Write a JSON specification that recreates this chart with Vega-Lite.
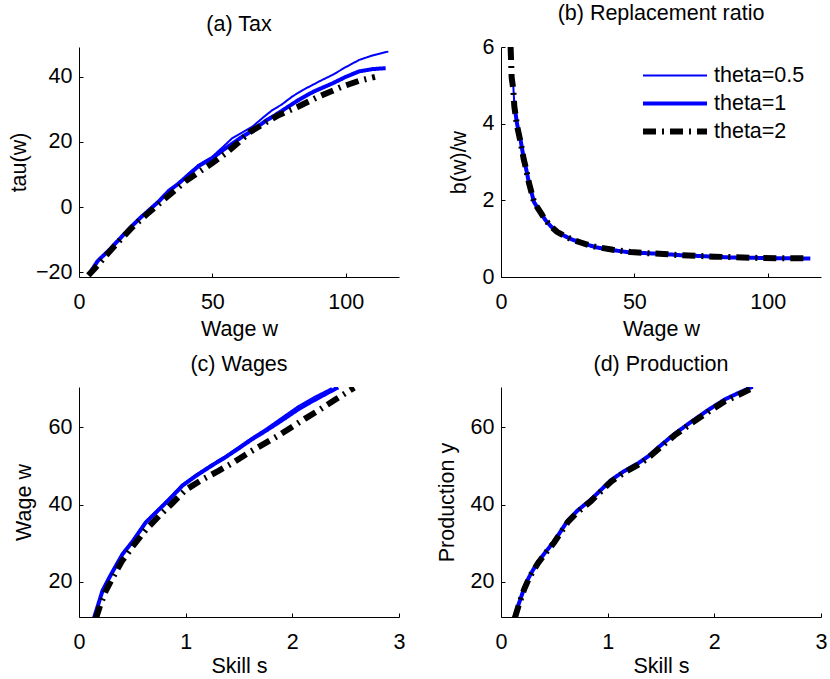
{
  "$schema": "https://vega.github.io/schema/vega-lite/v6.json",
  "padding": {"left": 8, "top": 3, "right": 5, "bottom": 0},
  "background": "white",
  "datasets": {
    "a": [
      {"x":4.4,"y":-19.4,"t":"theta=0.5"},{"x":7,"y":-16.5,"t":"theta=0.5"},{"x":11.2,"y":-13.2,"t":"theta=0.5"},{"x":15,"y":-9.8,"t":"theta=0.5"},{"x":19.4,"y":-6,"t":"theta=0.5"},{"x":23,"y":-3.2,"t":"theta=0.5"},{"x":26.2,"y":-0.9,"t":"theta=0.5"},{"x":30,"y":2,"t":"theta=0.5"},{"x":33.7,"y":5.2,"t":"theta=0.5"},{"x":37,"y":7,"t":"theta=0.5"},{"x":41.2,"y":10.4,"t":"theta=0.5"},{"x":45,"y":13,"t":"theta=0.5"},{"x":50,"y":15.5,"t":"theta=0.5"},{"x":54,"y":18.5,"t":"theta=0.5"},{"x":57.5,"y":21.2,"t":"theta=0.5"},{"x":61,"y":22.8,"t":"theta=0.5"},{"x":65,"y":24.7,"t":"theta=0.5"},{"x":69,"y":27.5,"t":"theta=0.5"},{"x":72.5,"y":29.8,"t":"theta=0.5"},{"x":76,"y":31.5,"t":"theta=0.5"},{"x":80,"y":34,"t":"theta=0.5"},{"x":84,"y":36,"t":"theta=0.5"},{"x":87.5,"y":37.5,"t":"theta=0.5"},{"x":91,"y":39,"t":"theta=0.5"},{"x":95,"y":40.6,"t":"theta=0.5"},{"x":100,"y":43,"t":"theta=0.5"},{"x":105,"y":45.2,"t":"theta=0.5"},{"x":110,"y":46.6,"t":"theta=0.5"},{"x":116,"y":47.8,"t":"theta=0.5"},
      {"x":4.6,"y":-19.6,"t":"theta=1"},{"x":7,"y":-16.6,"t":"theta=1"},{"x":11.2,"y":-13.3,"t":"theta=1"},{"x":15,"y":-10,"t":"theta=1"},{"x":19.4,"y":-6.2,"t":"theta=1"},{"x":23,"y":-3.3,"t":"theta=1"},{"x":26.2,"y":-1,"t":"theta=1"},{"x":30,"y":1.8,"t":"theta=1"},{"x":33.7,"y":5,"t":"theta=1"},{"x":37,"y":7,"t":"theta=1"},{"x":41.2,"y":10,"t":"theta=1"},{"x":45,"y":12.7,"t":"theta=1"},{"x":50,"y":15,"t":"theta=1"},{"x":54,"y":17.5,"t":"theta=1"},{"x":57.5,"y":19.5,"t":"theta=1"},{"x":61,"y":21.5,"t":"theta=1"},{"x":65,"y":23.5,"t":"theta=1"},{"x":70,"y":26.5,"t":"theta=1"},{"x":75,"y":29,"t":"theta=1"},{"x":82.5,"y":33,"t":"theta=1"},{"x":88,"y":35.5,"t":"theta=1"},{"x":95,"y":38,"t":"theta=1"},{"x":100,"y":40,"t":"theta=1"},{"x":105,"y":41.7,"t":"theta=1"},{"x":110,"y":42.4,"t":"theta=1"},{"x":115,"y":42.7,"t":"theta=1"},
      {"x":3.5,"y":-21,"t":"theta=2"},{"x":6,"y":-18.8,"t":"theta=2"},{"x":10,"y":-15,"t":"theta=2"},{"x":15,"y":-10.5,"t":"theta=2"},{"x":20,"y":-6.2,"t":"theta=2"},{"x":25,"y":-2.5,"t":"theta=2"},{"x":30,"y":1,"t":"theta=2"},{"x":35,"y":4.5,"t":"theta=2"},{"x":40,"y":8,"t":"theta=2"},{"x":45,"y":10.8,"t":"theta=2"},{"x":50,"y":13.5,"t":"theta=2"},{"x":55,"y":16.5,"t":"theta=2"},{"x":60,"y":20,"t":"theta=2"},{"x":64,"y":23,"t":"theta=2"},{"x":70,"y":26,"t":"theta=2"},{"x":75,"y":28.3,"t":"theta=2"},{"x":82.5,"y":31,"t":"theta=2"},{"x":90,"y":34,"t":"theta=2"},{"x":98.6,"y":37,"t":"theta=2"},{"x":105,"y":38.8,"t":"theta=2"},{"x":111,"y":40,"t":"theta=2"}
    ],
    "b": [
      {"x":4.6,"y":5.0,"t":"theta=0.5"},{"x":5,"y":4.5,"t":"theta=0.5"},{"x":6,"y":4.0,"t":"theta=0.5"},{"x":7.4,"y":3.55,"t":"theta=0.5"},{"x":8.5,"y":3.1,"t":"theta=0.5"},{"x":9.2,"y":2.9,"t":"theta=0.5"},{"x":10.5,"y":2.45,"t":"theta=0.5"},{"x":12.4,"y":1.95,"t":"theta=0.5"},{"x":14.9,"y":1.68,"t":"theta=0.5"},{"x":16.5,"y":1.5,"t":"theta=0.5"},{"x":18.6,"y":1.33,"t":"theta=0.5"},{"x":21,"y":1.18,"t":"theta=0.5"},{"x":23.6,"y":1.08,"t":"theta=0.5"},{"x":26.5,"y":0.98,"t":"theta=0.5"},{"x":29.9,"y":0.9,"t":"theta=0.5"},{"x":33,"y":0.83,"t":"theta=0.5"},{"x":36,"y":0.77,"t":"theta=0.5"},{"x":42,"y":0.7,"t":"theta=0.5"},{"x":48.6,"y":0.64,"t":"theta=0.5"},{"x":55,"y":0.62,"t":"theta=0.5"},{"x":61,"y":0.6,"t":"theta=0.5"},{"x":67,"y":0.57,"t":"theta=0.5"},{"x":73.6,"y":0.55,"t":"theta=0.5"},{"x":80,"y":0.53,"t":"theta=0.5"},{"x":86,"y":0.51,"t":"theta=0.5"},{"x":95,"y":0.5,"t":"theta=0.5"},{"x":105,"y":0.49,"t":"theta=0.5"},{"x":115,"y":0.49,"t":"theta=0.5"},
      {"x":4.8,"y":4.6,"t":"theta=1"},{"x":6,"y":4.0,"t":"theta=1"},{"x":7.4,"y":3.55,"t":"theta=1"},{"x":8.5,"y":3.1,"t":"theta=1"},{"x":9.2,"y":2.9,"t":"theta=1"},{"x":10.5,"y":2.45,"t":"theta=1"},{"x":12.4,"y":1.95,"t":"theta=1"},{"x":14.9,"y":1.68,"t":"theta=1"},{"x":16.5,"y":1.5,"t":"theta=1"},{"x":18.6,"y":1.33,"t":"theta=1"},{"x":21,"y":1.18,"t":"theta=1"},{"x":23.6,"y":1.08,"t":"theta=1"},{"x":26.5,"y":0.98,"t":"theta=1"},{"x":29.9,"y":0.9,"t":"theta=1"},{"x":33,"y":0.83,"t":"theta=1"},{"x":36,"y":0.77,"t":"theta=1"},{"x":42,"y":0.7,"t":"theta=1"},{"x":48.6,"y":0.64,"t":"theta=1"},{"x":55,"y":0.62,"t":"theta=1"},{"x":61,"y":0.6,"t":"theta=1"},{"x":67,"y":0.57,"t":"theta=1"},{"x":73.6,"y":0.55,"t":"theta=1"},{"x":80,"y":0.53,"t":"theta=1"},{"x":86,"y":0.51,"t":"theta=1"},{"x":95,"y":0.5,"t":"theta=1"},{"x":105,"y":0.49,"t":"theta=1"},{"x":116,"y":0.48,"t":"theta=1"},
      {"x":3.6,"y":6.0,"t":"theta=2"},{"x":4.0,"y":5.2,"t":"theta=2"},{"x":4.6,"y":4.9,"t":"theta=2"},{"x":5,"y":4.45,"t":"theta=2"},{"x":6,"y":3.95,"t":"theta=2"},{"x":7.4,"y":3.5,"t":"theta=2"},{"x":8.5,"y":3.08,"t":"theta=2"},{"x":9.2,"y":2.88,"t":"theta=2"},{"x":10.5,"y":2.45,"t":"theta=2"},{"x":12.4,"y":1.95,"t":"theta=2"},{"x":14.9,"y":1.68,"t":"theta=2"},{"x":16.5,"y":1.5,"t":"theta=2"},{"x":18.6,"y":1.33,"t":"theta=2"},{"x":21,"y":1.18,"t":"theta=2"},{"x":23.6,"y":1.08,"t":"theta=2"},{"x":26.5,"y":0.98,"t":"theta=2"},{"x":29.9,"y":0.9,"t":"theta=2"},{"x":33,"y":0.83,"t":"theta=2"},{"x":36,"y":0.78,"t":"theta=2"},{"x":42,"y":0.71,"t":"theta=2"},{"x":48.6,"y":0.65,"t":"theta=2"},{"x":55,"y":0.62,"t":"theta=2"},{"x":61,"y":0.6,"t":"theta=2"},{"x":67,"y":0.57,"t":"theta=2"},{"x":73.6,"y":0.55,"t":"theta=2"},{"x":80,"y":0.53,"t":"theta=2"},{"x":86,"y":0.52,"t":"theta=2"},{"x":95,"y":0.5,"t":"theta=2"},{"x":105,"y":0.49,"t":"theta=2"},{"x":114,"y":0.49,"t":"theta=2"}
    ],
    "c": [
      {"x":0.14,"y":10.5,"t":"theta=0.5"},{"x":0.18,"y":14,"t":"theta=0.5"},{"x":0.22,"y":17.9,"t":"theta=0.5"},{"x":0.28,"y":21,"t":"theta=0.5"},{"x":0.34,"y":24,"t":"theta=0.5"},{"x":0.41,"y":27.4,"t":"theta=0.5"},{"x":0.5,"y":30.5,"t":"theta=0.5"},{"x":0.625,"y":35.6,"t":"theta=0.5"},{"x":0.75,"y":39,"t":"theta=0.5"},{"x":0.85,"y":41.8,"t":"theta=0.5"},{"x":0.97,"y":45.2,"t":"theta=0.5"},{"x":1.1,"y":47.8,"t":"theta=0.5"},{"x":1.25,"y":50.5,"t":"theta=0.5"},{"x":1.375,"y":52.6,"t":"theta=0.5"},{"x":1.5,"y":55,"t":"theta=0.5"},{"x":1.62,"y":57.3,"t":"theta=0.5"},{"x":1.75,"y":59.6,"t":"theta=0.5"},{"x":1.9,"y":62.5,"t":"theta=0.5"},{"x":2.06,"y":65.6,"t":"theta=0.5"},{"x":2.2,"y":67.8,"t":"theta=0.5"},{"x":2.37,"y":70.2,"t":"theta=0.5"},
      {"x":0.14,"y":10.5,"t":"theta=1"},{"x":0.18,"y":14,"t":"theta=1"},{"x":0.22,"y":17.6,"t":"theta=1"},{"x":0.28,"y":20.8,"t":"theta=1"},{"x":0.34,"y":23.8,"t":"theta=1"},{"x":0.41,"y":27.2,"t":"theta=1"},{"x":0.5,"y":30.3,"t":"theta=1"},{"x":0.625,"y":35.3,"t":"theta=1"},{"x":0.75,"y":38.7,"t":"theta=1"},{"x":0.85,"y":41.4,"t":"theta=1"},{"x":0.97,"y":44.9,"t":"theta=1"},{"x":1.1,"y":47.5,"t":"theta=1"},{"x":1.25,"y":50.2,"t":"theta=1"},{"x":1.375,"y":52.3,"t":"theta=1"},{"x":1.5,"y":54.6,"t":"theta=1"},{"x":1.62,"y":56.9,"t":"theta=1"},{"x":1.75,"y":59.1,"t":"theta=1"},{"x":1.9,"y":61.8,"t":"theta=1"},{"x":2.06,"y":64.8,"t":"theta=1"},{"x":2.2,"y":67,"t":"theta=1"},{"x":2.32,"y":68.8,"t":"theta=1"},{"x":2.43,"y":70.4,"t":"theta=1"},
      {"x":0.16,"y":10.5,"t":"theta=2"},{"x":0.2,"y":14,"t":"theta=2"},{"x":0.25,"y":17.5,"t":"theta=2"},{"x":0.3,"y":20.2,"t":"theta=2"},{"x":0.4,"y":25.2,"t":"theta=2"},{"x":0.5,"y":29,"t":"theta=2"},{"x":0.625,"y":33.4,"t":"theta=2"},{"x":0.75,"y":37,"t":"theta=2"},{"x":0.87,"y":40.2,"t":"theta=2"},{"x":1.0,"y":43.8,"t":"theta=2"},{"x":1.15,"y":46.4,"t":"theta=2"},{"x":1.3,"y":48.6,"t":"theta=2"},{"x":1.44,"y":50.8,"t":"theta=2"},{"x":1.6,"y":53.6,"t":"theta=2"},{"x":1.75,"y":56,"t":"theta=2"},{"x":1.875,"y":58,"t":"theta=2"},{"x":2.0,"y":60.2,"t":"theta=2"},{"x":2.12,"y":62.3,"t":"theta=2"},{"x":2.25,"y":64.5,"t":"theta=2"},{"x":2.4,"y":67.2,"t":"theta=2"},{"x":2.58,"y":70.3,"t":"theta=2"}
    ],
    "d": [
      {"x":0.125,"y":10.6,"t":"theta=0.5"},{"x":0.17,"y":14.5,"t":"theta=0.5"},{"x":0.22,"y":18.5,"t":"theta=0.5"},{"x":0.26,"y":21,"t":"theta=0.5"},{"x":0.3,"y":23,"t":"theta=0.5"},{"x":0.35,"y":25.2,"t":"theta=0.5"},{"x":0.41,"y":27.4,"t":"theta=0.5"},{"x":0.5,"y":30.5,"t":"theta=0.5"},{"x":0.625,"y":35.8,"t":"theta=0.5"},{"x":0.72,"y":38.5,"t":"theta=0.5"},{"x":0.84,"y":41.2,"t":"theta=0.5"},{"x":0.93,"y":43.6,"t":"theta=0.5"},{"x":1.03,"y":46.3,"t":"theta=0.5"},{"x":1.15,"y":48.6,"t":"theta=0.5"},{"x":1.28,"y":50.6,"t":"theta=0.5"},{"x":1.375,"y":52.4,"t":"theta=0.5"},{"x":1.5,"y":55.4,"t":"theta=0.5"},{"x":1.63,"y":58.4,"t":"theta=0.5"},{"x":1.78,"y":61.4,"t":"theta=0.5"},{"x":1.94,"y":64.5,"t":"theta=0.5"},{"x":2.1,"y":67.3,"t":"theta=0.5"},{"x":2.23,"y":69,"t":"theta=0.5"},{"x":2.36,"y":70.6,"t":"theta=0.5"},
      {"x":0.125,"y":10.6,"t":"theta=1"},{"x":0.17,"y":14.5,"t":"theta=1"},{"x":0.22,"y":18.5,"t":"theta=1"},{"x":0.26,"y":21,"t":"theta=1"},{"x":0.3,"y":23,"t":"theta=1"},{"x":0.35,"y":25.2,"t":"theta=1"},{"x":0.41,"y":27.4,"t":"theta=1"},{"x":0.5,"y":30.5,"t":"theta=1"},{"x":0.625,"y":35.8,"t":"theta=1"},{"x":0.72,"y":38.5,"t":"theta=1"},{"x":0.84,"y":41.2,"t":"theta=1"},{"x":0.93,"y":43.6,"t":"theta=1"},{"x":1.03,"y":46.3,"t":"theta=1"},{"x":1.15,"y":48.6,"t":"theta=1"},{"x":1.28,"y":50.6,"t":"theta=1"},{"x":1.375,"y":52.4,"t":"theta=1"},{"x":1.5,"y":55.4,"t":"theta=1"},{"x":1.63,"y":58.4,"t":"theta=1"},{"x":1.78,"y":61.4,"t":"theta=1"},{"x":1.94,"y":64.5,"t":"theta=1"},{"x":2.1,"y":67.3,"t":"theta=1"},{"x":2.23,"y":69,"t":"theta=1"},{"x":2.36,"y":70.6,"t":"theta=1"},
      {"x":0.13,"y":10.6,"t":"theta=2"},{"x":0.17,"y":14.2,"t":"theta=2"},{"x":0.22,"y":18.2,"t":"theta=2"},{"x":0.26,"y":20.7,"t":"theta=2"},{"x":0.3,"y":22.7,"t":"theta=2"},{"x":0.35,"y":24.9,"t":"theta=2"},{"x":0.41,"y":27.1,"t":"theta=2"},{"x":0.5,"y":30.2,"t":"theta=2"},{"x":0.625,"y":35.4,"t":"theta=2"},{"x":0.72,"y":38.1,"t":"theta=2"},{"x":0.84,"y":40.8,"t":"theta=2"},{"x":0.93,"y":43.2,"t":"theta=2"},{"x":1.03,"y":45.9,"t":"theta=2"},{"x":1.15,"y":48.2,"t":"theta=2"},{"x":1.28,"y":50.2,"t":"theta=2"},{"x":1.375,"y":52,"t":"theta=2"},{"x":1.5,"y":55,"t":"theta=2"},{"x":1.63,"y":58,"t":"theta=2"},{"x":1.78,"y":61,"t":"theta=2"},{"x":1.94,"y":64,"t":"theta=2"},{"x":2.1,"y":66.8,"t":"theta=2"},{"x":2.23,"y":68.5,"t":"theta=2"},{"x":2.34,"y":70,"t":"theta=2"}
    ]
  },
  "columns": 2,
  "spacing": {"row": 110, "column": 102},
  "bounds": "flush",
  "concat": [
    {
      "title": "(a) Tax",
      "width": 320, "height": 230,
      "data": {"name": "a"},
      "mark": {"type": "line", "clip": true, "strokeCap": "butt"},
      "encoding": {
        "x": {"field": "x", "type": "quantitative", "scale": {"domain": [0, 120], "nice": false, "zero": false}, "axis": {"values": [0, 50, 100], "title": "Wage w"}},
        "y": {"field": "y", "type": "quantitative", "scale": {"domain": [-21.5, 49.2], "nice": false, "zero": false}, "axis": {"values": [-20, 0, 20, 40], "title": "tau(w)", "titlePadding": 5}},
        "color": {"field": "t", "type": "nominal", "scale": {"domain": ["theta=0.5", "theta=1", "theta=2"], "range": ["#0000ff", "#0000ff", "#000000"]}},
        "strokeWidth": {"field": "t", "type": "nominal", "scale": {"domain": ["theta=0.5", "theta=1", "theta=2"], "range": [2, 6, 4.5]}},
        "strokeDash": {"field": "t", "type": "nominal", "scale": {"domain": ["theta=0.5", "theta=1", "theta=2"], "range": [[1, 0], [1, 0], [13, 6, 2, 6]]}}
      }
    },
    {
      "title": "(b) Replacement ratio",
      "width": 320, "height": 230,
      "data": {"name": "b"},
      "mark": {"type": "line", "clip": true, "strokeCap": "butt"},
      "encoding": {
        "x": {"field": "x", "type": "quantitative", "scale": {"domain": [0, 120], "nice": false, "zero": false}, "axis": {"values": [0, 50, 100], "title": "Wage w"}},
        "y": {"field": "y", "type": "quantitative", "scale": {"domain": [0, 6], "nice": false, "zero": false}, "axis": {"values": [0, 2, 4, 6], "title": "b(w)/w", "titlePadding": 12}},
        "color": {"field": "t", "type": "nominal", "scale": {"domain": ["theta=0.5", "theta=1", "theta=2"], "range": ["#0000ff", "#0000ff", "#000000"]}},
        "strokeWidth": {"field": "t", "type": "nominal", "scale": {"domain": ["theta=0.5", "theta=1", "theta=2"], "range": [2, 6, 4.5]}},
        "strokeDash": {"field": "t", "type": "nominal", "scale": {"domain": ["theta=0.5", "theta=1", "theta=2"], "range": [[1, 0], [1, 0], [13, 6, 2, 6]]}}
      }
    },
    {
      "title": "(c) Wages",
      "width": 320, "height": 230,
      "data": {"name": "c"},
      "mark": {"type": "line", "clip": true, "strokeCap": "butt"},
      "encoding": {
        "x": {"field": "x", "type": "quantitative", "scale": {"domain": [0, 3], "nice": false, "zero": false}, "axis": {"values": [0, 1, 2, 3], "title": "Skill s", "titlePadding": 3}},
        "y": {"field": "y", "type": "quantitative", "scale": {"domain": [10.8, 70.5], "nice": false, "zero": false}, "axis": {"values": [20, 40, 60], "title": "Wage w", "titlePadding": 13}},
        "color": {"field": "t", "type": "nominal", "scale": {"domain": ["theta=0.5", "theta=1", "theta=2"], "range": ["#0000ff", "#0000ff", "#000000"]}},
        "strokeWidth": {"field": "t", "type": "nominal", "scale": {"domain": ["theta=0.5", "theta=1", "theta=2"], "range": [2, 6, 4.5]}},
        "strokeDash": {"field": "t", "type": "nominal", "scale": {"domain": ["theta=0.5", "theta=1", "theta=2"], "range": [[1, 0], [1, 0], [13, 6, 2, 6]]}}
      }
    },
    {
      "title": "(d) Production",
      "width": 320, "height": 230,
      "data": {"name": "d"},
      "mark": {"type": "line", "clip": true, "strokeCap": "butt"},
      "encoding": {
        "x": {"field": "x", "type": "quantitative", "scale": {"domain": [0, 3], "nice": false, "zero": false}, "axis": {"values": [0, 1, 2, 3], "title": "Skill s", "titlePadding": 3}},
        "y": {"field": "y", "type": "quantitative", "scale": {"domain": [10.8, 70.5], "nice": false, "zero": false}, "axis": {"values": [20, 40, 60], "title": "Production y", "titlePadding": 11.5}},
        "color": {"field": "t", "type": "nominal", "scale": {"domain": ["theta=0.5", "theta=1", "theta=2"], "range": ["#0000ff", "#0000ff", "#000000"]}},
        "strokeWidth": {"field": "t", "type": "nominal", "scale": {"domain": ["theta=0.5", "theta=1", "theta=2"], "range": [2, 6, 4.5]}},
        "strokeDash": {"field": "t", "type": "nominal", "scale": {"domain": ["theta=0.5", "theta=1", "theta=2"], "range": [[1, 0], [1, 0], [13, 6, 2, 6]]}}
      }
    }
  ],
  "config": {
    "font": "Liberation Sans",
    "view": {"stroke": null},
    "title": {"fontSize": 21.5, "fontWeight": "normal", "color": "#000000", "font": "Liberation Sans", "anchor": "middle", "baseline": "alphabetic", "offset": 11.5},
    "axis": {
      "grid": false,
      "domainColor": "#000000", "domainWidth": 1,
      "tickColor": "#000000", "tickWidth": 1, "tickSize": -4,
      "labelColor": "#000000", "labelFontSize": 21.5, "labelFont": "Liberation Sans",
      "titleColor": "#000000", "titleFontSize": 21.5, "titleFontWeight": "normal", "titleFont": "Liberation Sans",
      "labelFlush": false, "labelOverlap": false
    },
    "axisX": {"labelPadding": 18, "titlePadding": 6},
    "axisY": {"labelPadding": 11},
    "legend": {
      "orient": "none", "legendX": 561, "legendY": 18, "title": null,
      "symbolType": "stroke", "symbolSize": 4096, "clipHeight": 21, "labelFontSize": 21.5, "labelFont": "Liberation Sans", "labelColor": "#000000",
      "labelOffset": 4, "rowPadding": 6, "labelLimit": 300
    }
  }
}
